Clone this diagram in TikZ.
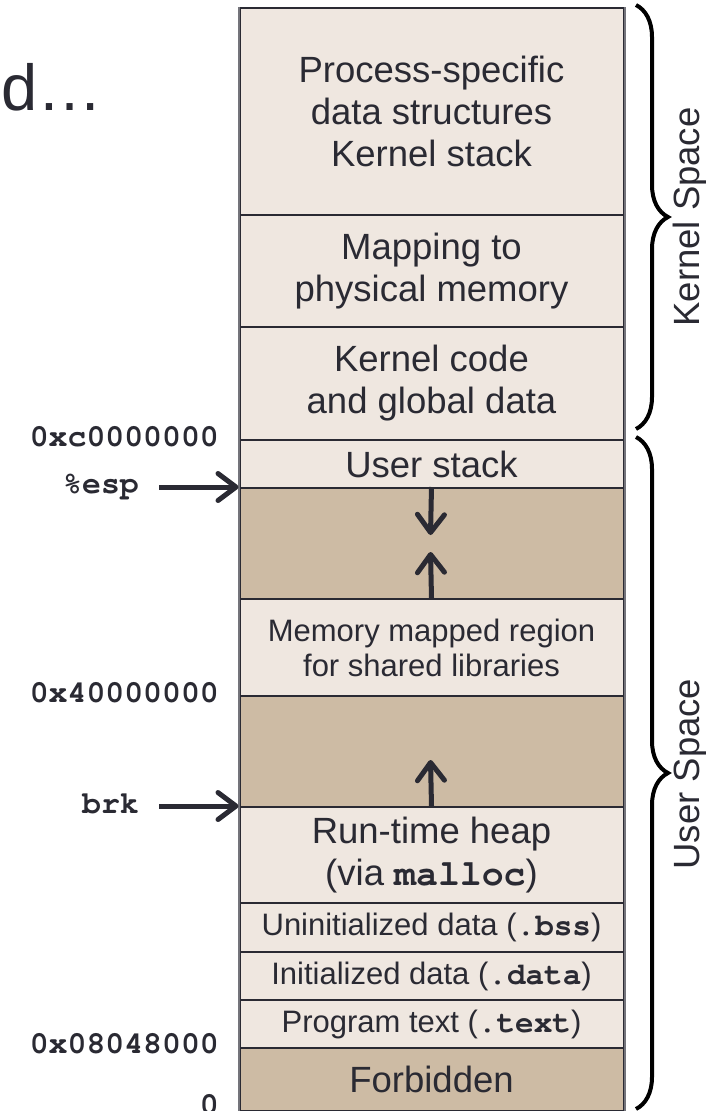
\documentclass[tikz,border=0pt]{standalone}
\usepackage[T1]{fontenc}
\usepackage{fontspec}
\setmainfont{Liberation Sans}
\usetikzlibrary{arrows.meta,decorations.pathreplacing}
\definecolor{lightfill}{HTML}{EFE7E0}
\definecolor{darkfill}{HTML}{CDBBA4}
\definecolor{ink}{HTML}{2A2A33}
\definecolor{rim}{HTML}{74747B}
% bold Courier for code and addresses
\newcommand{\courb}{\fontencoding{T1}\fontfamily{pcr}\fontseries{b}\fontshape{n}\selectfont}
\newcommand{\cw}[1]{{\courb #1}}

\begin{document}
\begin{tikzpicture}[x=1pt,y=-1pt,
  region/.style={draw=ink, line width=2pt, minimum width=384pt, anchor=north west,
    inner sep=0pt, text=ink, align=center, font=\fontsize{36.5}{42}\selectfont},
  small/.style={font=\fontsize{31}{35}\selectfont},
  lightbox/.style={region, fill=lightfill},
  darkbox/.style={region, fill=darkfill},
  addr/.style={anchor=base east, inner sep=0pt, text=ink,
    font=\fontsize{31.5}{36}\courb},
  ptr/.style={draw=ink, line width=5pt,
    -{Straight Barb[length=18pt,width=27pt,line cap=round,line join=round]}},
  spacebrace/.style={draw=black, line width=4pt, decorate,
    decoration={brace, amplitude=32pt}},
  side/.style={rotate=90, anchor=base, inner sep=0pt, text=ink,
    font=\fontsize{36.5}{42}\selectfont}
]
\useasboundingbox (0,0) rectangle (705,1111);

% address space regions, top to bottom
\node[lightbox, minimum height=207pt] (r1) at (238.5,7)
  {Process-specific\\data structures\\Kernel stack};
\node[lightbox, minimum height=112pt] (r2) at (238.5,214)
  {Mapping to\\physical memory};
\node[lightbox, minimum height=113pt] (r3) at (238.5,326)
  {Kernel code\\and global data};
\node[lightbox, minimum height=48pt] (r4) at (238.5,439) {User stack};
\node[darkbox, minimum height=111pt] (r5) at (238.5,487) {};
\node[lightbox, small, minimum height=97pt] (r6) at (238.5,598)
  {Memory mapped region\\for shared libraries};
\node[darkbox, minimum height=111pt] (r7) at (238.5,695) {};
\node[lightbox, minimum height=96pt] (r8) at (238.5,806)
  {Run-time heap\\(via \cw{malloc})};
\node[lightbox, small, minimum height=49pt] (r9) at (238.5,902)
  {Uninitialized data (\cw{.bss})};
\node[lightbox, small, minimum height=48pt] (r10) at (238.5,951)
  {Initialized data (\cw{.data})};
\node[lightbox, small, minimum height=48pt] (r11) at (238.5,999)
  {Program text (\cw{.text})};
\node[darkbox, minimum height=63pt] (r12) at (238.5,1047) {Forbidden};

% outer sides of the column
\draw[rim, line width=2pt] (r1.north west) -- (r12.south west);
\draw[rim, line width=2pt] (r1.north east) -- (r12.south east);

% growth arrows
\coordinate (stacktip) at (430.5,535);
\coordinate (mmaptip) at (430.5,552);
\coordinate (heaptip) at (430.5,760);
\draw[ptr] (r5.north) -- (stacktip);
\draw[ptr] (r6.north) -- (mmaptip);
\draw[ptr] (r8.north) -- (heaptip);

% addresses and pointers on the left
\node[addr] (a1) at (219,446) {0xc0000000};
\node[addr] (esp) at (139,493) {\%esp};
\node[addr] (a2) at (219,702) {0x40000000};
\node[addr] (brk) at (139,813) {brk};
\node[addr] (a3) at (219,1053) {0x08048000};
\node[addr] (a0) at (219,1114) {0};
\coordinate (espstart) at (159,487);
\coordinate (brkstart) at (159,806);
\draw[ptr] (espstart) -- (r5.north west);
\draw[ptr] (brkstart) -- (r8.north west);

% kernel / user braces
\draw[spacebrace] (636,5) -- (636,429);
\draw[spacebrace] (636,437) -- (636,1109);
\node[side] (ks) at (699,217) {Kernel Space};
\node[side] (us) at (699,774) {User Space};

% heading fragment
\node[anchor=base west, inner sep=0pt, text=ink,
  font=\fontsize{65}{70}\selectfont] (dd) at (1,110) {d…};
\end{tikzpicture}
\end{document}
